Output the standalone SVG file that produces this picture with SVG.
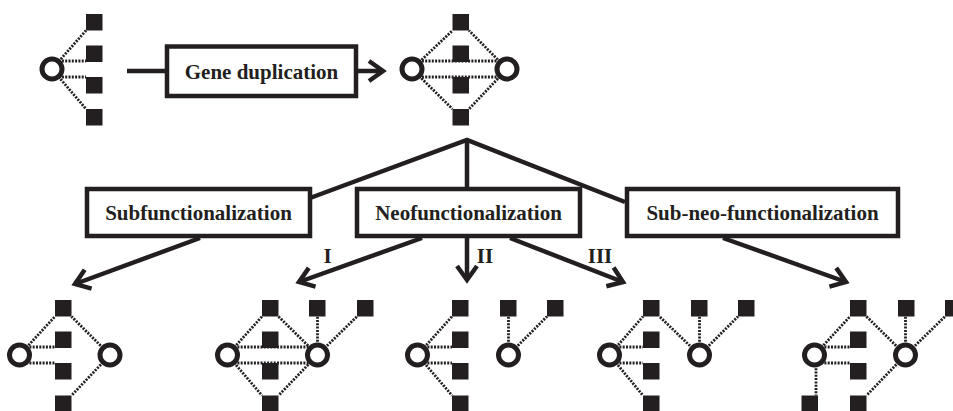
<svg xmlns="http://www.w3.org/2000/svg" width="953" height="411" viewBox="0 0 953 411">
<style>
.bg{fill:#fff}
.box{fill:#fff;stroke:#231f20;stroke-width:4.5}
.lbl{font-family:"Liberation Serif","Times New Roman",serif;font-weight:bold;font-size:21px;fill:#231f20;text-anchor:middle}
.line{stroke:#231f20;stroke-width:4.5;fill:none}
.arr{stroke:#231f20;stroke-width:4.5;fill:none;marker-end:url(#chev)}
.dot{stroke:#231f20;stroke-width:2.8;stroke-dasharray:2 1.3;fill:none}
.sq{fill:#231f20}
.ci{fill:#fff;stroke:#231f20;stroke-width:5}
</style>
<defs>
<marker id="chev" markerUnits="userSpaceOnUse" viewBox="-20 -14 26 28" refX="0" refY="0" markerWidth="26" markerHeight="28" orient="auto" overflow="visible">
<path d="M-14,-10 L0,0 L-14,10" fill="none" stroke="#231f20" stroke-width="4.5" stroke-linejoin="miter"/>
</marker>
</defs>
<rect class="bg" x="0" y="0" width="953" height="411"/>

<g id="connectors">
<line class="line" x1="127" y1="71" x2="167" y2="71"/>
<line class="arr" x1="356" y1="71" x2="383" y2="71"/>
<polyline class="line" points="310,198 467,140 625,202"/>
<line class="line" x1="467" y1="140" x2="467" y2="189"/>
<line class="arr" x1="200" y1="238" x2="75" y2="284"/>
<line class="arr" x1="422" y1="238" x2="299" y2="282"/>
<line class="arr" x1="467" y1="238" x2="467" y2="280"/>
<line class="arr" x1="510" y1="238" x2="623" y2="282"/>
<line class="arr" x1="723" y1="238" x2="846" y2="282"/>
</g>

<g id="net-original">
<line class="dot" x1="52" y1="69" x2="86" y2="30.5"/>
<line class="dot" x1="52" y1="61" x2="86" y2="61"/>
<line class="dot" x1="52" y1="77" x2="86" y2="77"/>
<line class="dot" x1="52" y1="69" x2="86" y2="109"/>
<rect class="sq" x="86" y="14" width="16.5" height="16.5"/>
<rect class="sq" x="86" y="45.5" width="16.5" height="16.5"/>
<rect class="sq" x="86" y="77" width="16.5" height="16.5"/>
<rect class="sq" x="86" y="109" width="16.5" height="16.5"/>
<circle class="ci" cx="52" cy="69" r="10"/>
</g>

<g id="gene-duplication">
<rect class="box" x="167" y="46.5" width="189" height="49.5"/>
<text class="lbl" x="261.5" y="78.5">Gene duplication</text>
</g>

<g id="net-duplicated">
<line class="dot" x1="412" y1="69" x2="452.5" y2="30.5"/>
<line class="dot" x1="412" y1="69" x2="452.5" y2="109"/>
<line class="dot" x1="507" y1="69" x2="469" y2="30.5"/>
<line class="dot" x1="507" y1="69" x2="469" y2="109"/>
<line class="dot" x1="412" y1="61" x2="507" y2="61"/>
<line class="dot" x1="412" y1="77" x2="507" y2="77"/>
<rect class="sq" x="452.5" y="14" width="16.5" height="16.5"/>
<rect class="sq" x="452.5" y="45.5" width="16.5" height="16.5"/>
<rect class="sq" x="452.5" y="77" width="16.5" height="16.5"/>
<rect class="sq" x="452.5" y="109" width="16.5" height="16.5"/>
<circle class="ci" cx="412" cy="69" r="10"/>
<circle class="ci" cx="507" cy="69" r="10"/>
</g>

<g id="subfunctionalization">
<rect class="box" x="87" y="189" width="223" height="47"/>
<text class="lbl" x="198.5" y="219.5">Subfunctionalization</text>
</g>
<g id="neofunctionalization">
<rect class="box" x="357" y="189" width="223" height="47"/>
<text class="lbl" x="468.5" y="219.5">Neofunctionalization</text>
</g>
<g id="sub-neo-functionalization">
<rect class="box" x="627" y="189" width="271" height="47"/>
<text class="lbl" x="762.5" y="219.5">Sub-neo-functionalization</text>
</g>

<g id="labels">
<text class="lbl" x="327.5" y="263">I</text>
<text class="lbl" x="485" y="263">II</text>
<text class="lbl" x="600" y="263">III</text>
</g>

<g id="net-sub">
<line class="dot" x1="19.5" y1="355" x2="55" y2="316.5"/>
<line class="dot" x1="19.5" y1="347" x2="55" y2="347"/>
<line class="dot" x1="19.5" y1="363" x2="55" y2="363"/>
<line class="dot" x1="110" y1="355" x2="71.5" y2="316.5"/>
<line class="dot" x1="110" y1="355" x2="71.5" y2="395.5"/>
<rect class="sq" x="55" y="300" width="16.5" height="16.5"/>
<rect class="sq" x="55" y="331.5" width="16.5" height="16.5"/>
<rect class="sq" x="55" y="363" width="16.5" height="16.5"/>
<rect class="sq" x="55" y="395.5" width="16.5" height="16.5"/>
<circle class="ci" cx="19.5" cy="355" r="10"/>
<circle class="ci" cx="110" cy="355" r="10"/>
</g>

<g id="net-neo-I">
<line class="dot" x1="227.5" y1="355" x2="262" y2="316.5"/>
<line class="dot" x1="227.5" y1="355" x2="262" y2="395.5"/>
<line class="dot" x1="317.5" y1="355" x2="278.5" y2="316.5"/>
<line class="dot" x1="317.5" y1="355" x2="278.5" y2="395.5"/>
<line class="dot" x1="227.5" y1="347" x2="317.5" y2="347"/>
<line class="dot" x1="227.5" y1="363" x2="317.5" y2="363"/>
<line class="dot" x1="317.5" y1="355" x2="317.5" y2="316.5"/>
<line class="dot" x1="317.5" y1="355" x2="357" y2="316.5"/>
<rect class="sq" x="262" y="300" width="16.5" height="16.5"/>
<rect class="sq" x="262" y="331.5" width="16.5" height="16.5"/>
<rect class="sq" x="262" y="363" width="16.5" height="16.5"/>
<rect class="sq" x="262" y="395.5" width="16.5" height="16.5"/>
<rect class="sq" x="309" y="300" width="16.5" height="16.5"/>
<rect class="sq" x="357" y="300" width="16.5" height="16.5"/>
<circle class="ci" cx="227.5" cy="355" r="10"/>
<circle class="ci" cx="317.5" cy="355" r="10"/>
</g>

<g id="net-neo-II">
<line class="dot" x1="417.5" y1="355" x2="452" y2="316.5"/>
<line class="dot" x1="417.5" y1="347" x2="452" y2="347"/>
<line class="dot" x1="417.5" y1="363" x2="452" y2="363"/>
<line class="dot" x1="417.5" y1="355" x2="452" y2="395.5"/>
<line class="dot" x1="508.5" y1="355" x2="508.5" y2="316.5"/>
<line class="dot" x1="508.5" y1="355" x2="547" y2="316.5"/>
<rect class="sq" x="452" y="300" width="16.5" height="16.5"/>
<rect class="sq" x="452" y="331.5" width="16.5" height="16.5"/>
<rect class="sq" x="452" y="363" width="16.5" height="16.5"/>
<rect class="sq" x="452" y="395.5" width="16.5" height="16.5"/>
<rect class="sq" x="500" y="300" width="16.5" height="16.5"/>
<rect class="sq" x="547" y="300" width="16.5" height="16.5"/>
<circle class="ci" cx="417.5" cy="355" r="10"/>
<circle class="ci" cx="508.5" cy="355" r="10"/>
</g>

<g id="net-neo-III">
<line class="dot" x1="609.5" y1="355" x2="643" y2="316.5"/>
<line class="dot" x1="609.5" y1="347" x2="643" y2="347"/>
<line class="dot" x1="609.5" y1="363" x2="643" y2="363"/>
<line class="dot" x1="609.5" y1="355" x2="643" y2="395.5"/>
<line class="dot" x1="699.5" y1="355" x2="659.5" y2="316.5"/>
<line class="dot" x1="699.5" y1="355" x2="699.5" y2="316.5"/>
<line class="dot" x1="699.5" y1="355" x2="738" y2="316.5"/>
<rect class="sq" x="643" y="300" width="16.5" height="16.5"/>
<rect class="sq" x="643" y="331.5" width="16.5" height="16.5"/>
<rect class="sq" x="643" y="363" width="16.5" height="16.5"/>
<rect class="sq" x="643" y="395.5" width="16.5" height="16.5"/>
<rect class="sq" x="691" y="300" width="16.5" height="16.5"/>
<rect class="sq" x="738" y="300" width="16.5" height="16.5"/>
<circle class="ci" cx="609.5" cy="355" r="10"/>
<circle class="ci" cx="699.5" cy="355" r="10"/>
</g>

<g id="net-sub-neo">
<line class="dot" x1="814.5" y1="355" x2="850" y2="316.5"/>
<line class="dot" x1="814.5" y1="347" x2="850" y2="347"/>
<line class="dot" x1="814.5" y1="363" x2="850" y2="363"/>
<line class="dot" x1="816" y1="355" x2="816" y2="395.5"/>
<line class="dot" x1="905.5" y1="355" x2="866.5" y2="316.5"/>
<line class="dot" x1="905.5" y1="355" x2="866.5" y2="395.5"/>
<line class="dot" x1="905.5" y1="355" x2="905.5" y2="316.5"/>
<line class="dot" x1="905.5" y1="355" x2="945" y2="316.5"/>
<rect class="sq" x="850" y="300" width="16.5" height="16.5"/>
<rect class="sq" x="850" y="331.5" width="16.5" height="16.5"/>
<rect class="sq" x="850" y="363" width="16.5" height="16.5"/>
<rect class="sq" x="850" y="395.5" width="16.5" height="16.5"/>
<rect class="sq" x="801.5" y="395.5" width="16.5" height="16.5"/>
<rect class="sq" x="898" y="300" width="16.5" height="16.5"/>
<rect class="sq" x="945" y="300" width="16.5" height="16.5"/>
<circle class="ci" cx="814.5" cy="355" r="10"/>
<circle class="ci" cx="905.5" cy="355" r="10"/>
</g>
</svg>
